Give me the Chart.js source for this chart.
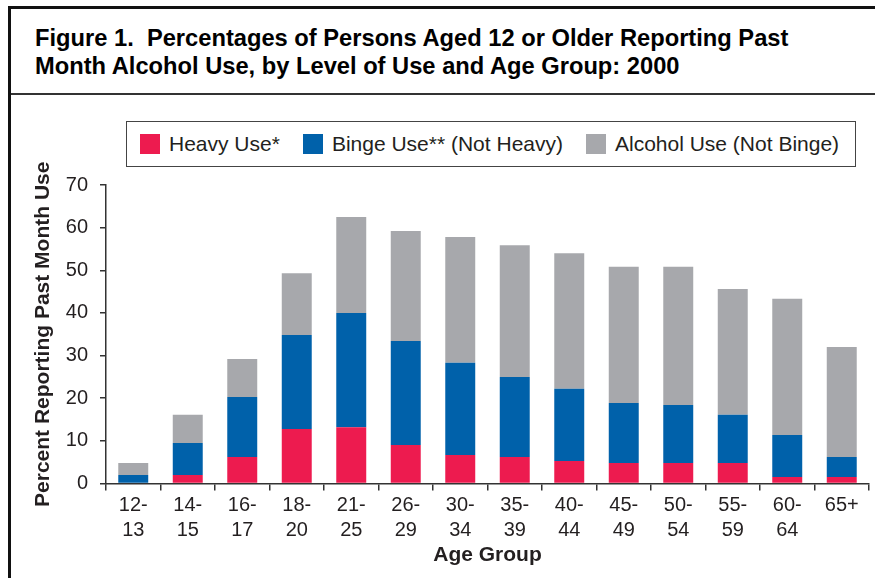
<!DOCTYPE html>
<html>
<head>
<meta charset="utf-8">
<script src="https://cdn.jsdelivr.net/npm/chart.js@4"></script>
<style>
  html, body { margin:0; padding:0; background:#fff; }
  body { width:875px; height:578px; position:relative; overflow:hidden; font-family:"Liberation Sans", Arial, sans-serif; color:#231f20; }
  #frameTop { position:absolute; left:8px; top:6px; width:867px; height:3px; background:#111; }
  #frameLeft { position:absolute; left:8px; top:6px; width:3px; height:572px; background:#111; }
  #divider { position:absolute; left:11px; top:93px; width:864px; height:1.5px; background:#333; }
  #title { position:absolute; left:35px; top:25px; font-weight:bold; font-size:23.7px; line-height:27.5px; color:#000; white-space:pre; }
  #legend { position:absolute; left:126px; top:121px; border:1.5px solid #444; display:flex; align-items:center; padding-left:13px; box-sizing:border-box; width:730px; height:46px; white-space:nowrap; }
  .item { display:flex; align-items:center; flex-shrink:0; margin-right:23px; font-size:21px; white-space:nowrap; }
  .sw { width:20px; height:20px; margin-right:9px; flex-shrink:0; }
  canvas { position:absolute; left:0; top:0; }
</style>
</head>
<body>
<div id="frameTop"></div>
<div id="frameLeft"></div>
<div id="title">Figure 1.  Percentages of Persons Aged 12 or Older Reporting Past
Month Alcohol Use, by Level of Use and Age Group: 2000</div>
<div id="divider"></div>
<div id="legend"></div>
<canvas id="c" width="875" height="578"></canvas>
<script>
// ---- data ----
const ageGroups = [['12-','13'],['14-','15'],['16-','17'],['18-','20'],['21-','25'],['26-','29'],['30-','34'],['35-','39'],['40-','44'],['45-','49'],['50-','54'],['55-','59'],['60-','64'],['65+']];
const heavyUse      = [0.0, 2.0, 6.2, 12.8, 13.2, 9.0, 6.7, 6.2, 5.3, 4.8, 4.8, 4.8, 1.5, 1.5];
const bingeNotHeavy = [2.0, 7.5, 14.1, 22.0, 26.8, 24.4, 21.6, 18.8, 16.9, 14.1, 13.6, 11.3, 9.9, 4.7];
const alcoholNotBinge = [2.8, 6.6, 8.9, 14.5, 22.5, 25.8, 29.5, 30.9, 31.8, 31.9, 32.4, 29.5, 31.9, 25.8];
const seriesNames = ['Heavy Use*', 'Binge Use** (Not Heavy)', 'Alcohol Use (Not Binge)'];
const yTicks = [0, 10, 20, 30, 40, 50, 60, 70];
const yTitle = 'Percent Reporting Past Month Use';
const xTitle = 'Age Group';

const colors = ['#ed1b4f', '#0061aa', '#a7a8ac'];
const FONT = '"Liberation Sans", Arial, sans-serif';
const ink = '#231f20';

const chart = new Chart(document.getElementById('c'), {
  type: 'bar',
  data: {
    labels: ageGroups,
    datasets: [
      { label: seriesNames[0], data: heavyUse, backgroundColor: colors[0] },
      { label: seriesNames[1], data: bingeNotHeavy, backgroundColor: colors[1] },
      { label: seriesNames[2], data: alcoholNotBinge, backgroundColor: colors[2] }
    ]
  },
  options: {
    responsive: false,
    animation: false,
    devicePixelRatio: 1,
    layout: { padding: { left: 31, right: 6, top: 185, bottom: 0 } },
    datasets: { bar: { categoryPercentage: 1, barPercentage: 0.55, borderWidth: 0 } },
    plugins: { legend: { display: false }, tooltip: { enabled: false } },
    scales: {
      x: {
        stacked: true,
        grid: { drawOnChartArea: false, drawTicks: true, tickLength: 7, color: '#333', lineWidth: 1.5, offset: true },
        border: { display: true, color: '#333', width: 1.5 },
        ticks: { color: ink, font: { family: FONT, size: 20, lineHeight: 1.25 }, padding: 2, maxRotation: 0, autoSkip: false },
        title: { display: true, text: xTitle, color: ink, font: { family: FONT, size: 21, weight: 'bold' }, padding: { top: 0, bottom: 10 } },
        afterFit: (s) => { s.height = 578 - 483.5; }
      },
      y: {
        stacked: true,
        min: 0, max: 70,
        afterBuildTicks: (s) => { s.ticks = yTicks.map(v => ({ value: v })); },
        grid: { drawOnChartArea: false, drawTicks: true, tickLength: 6, color: '#333', lineWidth: 1.5 },
        border: { display: true, color: '#333', width: 1.5 },
        ticks: { color: ink, font: { family: FONT, size: 20 }, padding: 12 },
        title: { display: true, text: yTitle, color: ink, font: { family: FONT, size: 21, weight: 'bold' }, padding: { top: 0, bottom: 0 } },
        afterFit: (s) => { s.width = 106 - 31; }
      }
    }
  }
});

// HTML legend built from the chart's datasets
const lg = document.getElementById('legend');
chart.data.datasets.forEach(ds => {
  const it = document.createElement('div'); it.className = 'item';
  const sw = document.createElement('div'); sw.className = 'sw'; sw.style.background = ds.backgroundColor;
  const tx = document.createElement('span'); tx.textContent = ds.label;
  it.appendChild(sw); it.appendChild(tx); lg.appendChild(it);
});
</script>
</body>
</html>
